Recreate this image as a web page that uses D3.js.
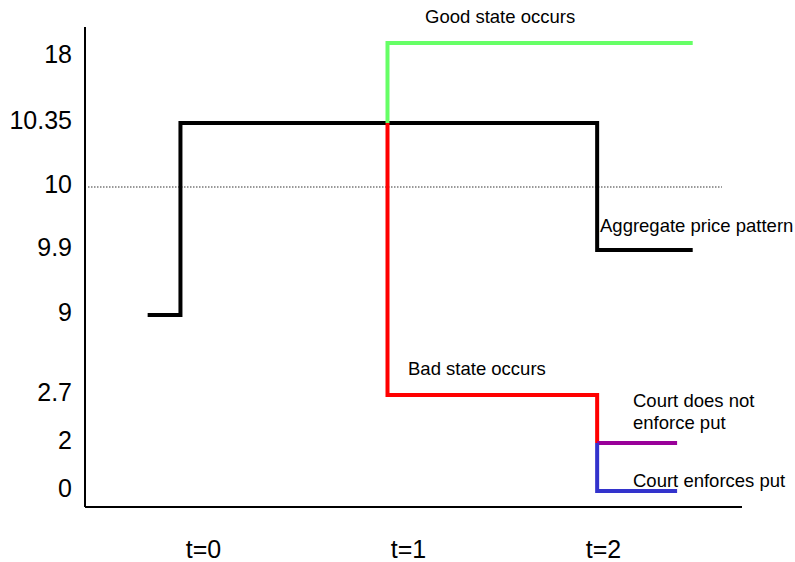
<!DOCTYPE html>
<html>
<head>
<meta charset="utf-8">
<script src="https://cdn.jsdelivr.net/npm/d3@7"></script>
<style>
  body { margin: 0; background: #fff; }
  text { font-family: Arial, "Liberation Sans", sans-serif; }
</style>
</head>
<body>
<script>

// data
const periods = [0, 1, 2]
const periodLabels = ['t=0', 't=1', 't=2']
const priceTicks = [18, 10.35, 10, 9.9, 9, 2.7, 2, 0]

// [t, price] corners, drawn as step-after paths
const aggregatePath = [[-0.27, 9], [-0.11, 10.35], [1.97, 9.9], [2.46, 9.9]]
const goodPath = [[0.9, 10.35], [0.9, 18], [2.46, 18]]
const badPath = [[0.9, 10.35], [0.9, 2.7], [1.97, 2]]
const noEnforcePath = [[1.97, 2], [2.38, 2]]
const enforcePath = [[1.97, 2], [1.97, 0], [2.38, 0]]
const referencePrice = 10

window.onload = function (){

    const width = 795
    const height = 562
    const axisX = 85
    const axisY = 507

    const svg = d3.select('body')
        .append('svg')
        .attr('width', width)
        .attr('height', height)

    // the axes are stylised: ticks are spaced evenly-ish, not to value
    const x = d3.scaleLinear()
        .domain([0, 1, 2])
        .range([203, 408, 603])

    const y = d3.scaleLinear()
        .domain([0, 2, 2.7, 9, 9.9, 10, 10.35, 18])
        .range([491, 443, 395, 315, 250, 187, 123, 43])

    // y axis
    const yAxis = svg.append('g')
        .attr('transform', getTranslateString(axisX, 0))
        .call(d3.axisLeft(y).tickValues(priceTicks).tickSize(0).tickPadding(13).tickFormat(d => d))
    yAxis.select('.domain').remove()
    yAxis.selectAll('text')
        .style('font-size', '25px')
        .attr('fill', '#000')
        .attr('dy', d => d === 18 ? '0.76em' : '0.2em')

    svg.append('line')
        .attr('x1', axisX).attr('x2', axisX)
        .attr('y1', 27).attr('y2', axisY)
        .attr('stroke', '#000').attr('stroke-width', 2)

    // x axis
    const xAxis = svg.append('g')
        .attr('transform', getTranslateString(0, axisY))
        .call(d3.axisBottom(x).tickValues(periods).tickSize(0).tickPadding(33).tickFormat((d, i) => periodLabels[i]))
    xAxis.select('.domain').remove()
    xAxis.selectAll('text')
        .style('font-size', '25px')
        .attr('fill', '#000')

    svg.append('line')
        .attr('x1', axisX).attr('x2', 742)
        .attr('y1', axisY).attr('y2', axisY)
        .attr('stroke', '#000').attr('stroke-width', 2)

    // dotted reference line at 10
    svg.append('line')
        .attr('x1', x(-0.56)).attr('x2', x(2.61))
        .attr('y1', y(referencePrice)).attr('y2', y(referencePrice))
        .attr('stroke', '#000')
        .attr('stroke-width', 1.2)
        .attr('stroke-dasharray', '1.2,1.8')

    const line = d3.line()
        .x(d => x(d[0]))
        .y(d => y(d[1]))
        .curve(d3.curveStepAfter)

    function drawPath(data, colour){
        svg.append('path')
            .datum(data)
            .attr('d', line)
            .attr('fill', 'none')
            .attr('stroke', colour)
            .attr('stroke-width', 4)
    }

    drawPath(aggregatePath, '#000000')
    drawPath(goodPath, '#66ff66')
    drawPath(badPath, '#ff0000')
    drawPath(noEnforcePath, '#990099')
    drawPath(enforcePath, '#3333cc')

    // annotations
    function note(txt, px, py){
        svg.append('text')
            .attr('x', px)
            .attr('y', py)
            .style('font-size', '18.5px')
            .attr('fill', '#000')
            .text(txt)
    }

    note('Good state occurs', 425, 23)
    note('Aggregate price pattern', 600, 232)
    note('Bad state occurs', 408, 375)
    note('Court does not', 633, 407)
    note('enforce put', 633, 429)
    note('Court enforces put', 633, 487)
}

function getTranslateString(x, y){
    return 'translate(' + x + ',' + y + ')'
}
</script>
</body>
</html>
